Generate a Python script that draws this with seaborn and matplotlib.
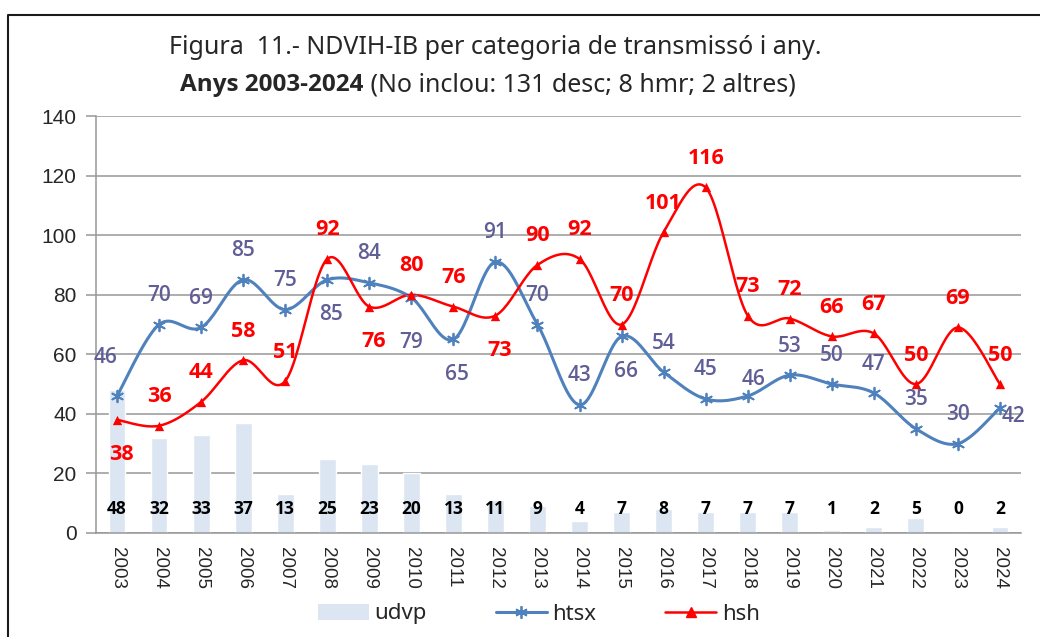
import numpy as np
import pandas as pd
import seaborn as sns
import matplotlib.pyplot as plt
from matplotlib.lines import Line2D
from matplotlib.patches import Patch

years = [str(y) for y in range(2003, 2025)]
udvp = [48, 32, 33, 37, 13, 25, 23, 20, 13, 11, 9, 4, 7, 8, 7, 7, 7, 1, 2, 5, 0, 2]
htsx = [46, 70, 69, 85, 75, 85, 84, 79, 65, 91, 70, 43, 66, 54, 45, 46, 53, 50, 47, 35, 30, 42]
hsh = [38, 36, 44, 58, 51, 92, 76, 80, 76, 73, 90, 92, 70, 101, 116, 73, 72, 66, 67, 50, 69, 50]

# where each data label sits relative to its point
htsx_pos = ['al', 'a', 'a', 'a', 'a', 'b', 'a', 'bb', 'b', 'a', 'a', 'a', 'b', 'a', 'a',
            'ar', 'a', 'a', 'a', 'a', 'a', 'r']
hsh_pos = ['b', 'a', 'a', 'a', 'a', 'a', 'b', 'a', 'a', 'b', 'a', 'a', 'a', 'a', 'a',
           'a', 'a', 'a', 'a', 'a', 'a', 'a']
offsets = {'a': (0, 29), 'b': (4, -35), 'bb': (0, -45), 'al': (-11, 38),
           'ar': (6, 16), 'r': (14, -9)}

BLUE = '#4F81BD'
RED = '#FF0000'
BAR = '#DCE6F2'
GRID = '#979797'
LBL = '#605E96'
BOLDFONT = ['Open Sans', 'DejaVu Sans']


def smooth(vals, n=24):
    # Bezier smoothing through the points, like Excel's "smoothed line"
    p = np.column_stack([np.arange(len(vals), dtype=float), np.asarray(vals, float)])
    p = np.vstack([p[0], p, p[-1]])
    t = np.linspace(0, 1, n, endpoint=False)[:, None]
    segs = []
    for i in range(1, len(p) - 2):
        p0, p1, p2, p3 = p[i - 1], p[i], p[i + 1], p[i + 2]
        c1 = p1 + (p2 - p0) / 6
        c2 = p2 - (p3 - p1) / 6
        segs.append((1 - t) ** 3 * p1 + 3 * (1 - t) ** 2 * t * c1
                    + 3 * (1 - t) * t ** 2 * c2 + t ** 3 * p2)
    segs.append(p[-2][None])
    s = np.vstack(segs)
    return s[:, 0], s[:, 1]


sns.set_style('white')
plt.rcParams['font.family'] = ['Noto Sans', 'DejaVu Sans']

df = pd.DataFrame({'year': years, 'udvp': udvp, 'htsx': htsx, 'hsh': hsh})

fig = plt.figure(figsize=(10.4, 6.37), dpi=100)
ax = fig.add_axes([96 / 1040, 1 - 533 / 637, 925 / 1040, 417 / 637])

sns.barplot(data=df, x='year', y='udvp', color=BAR, width=0.4, saturation=1, ax=ax, zorder=2)

xs, ys = smooth(htsx)
ax.plot(xs, ys, color=BLUE, lw=2.2, zorder=3)
sns.scatterplot(x=np.arange(len(htsx)), y=htsx, marker=(6, 2, 0), s=70, color=BLUE,
                linewidth=1.3, edgecolor=BLUE, ax=ax, zorder=4)
xs, ys = smooth(hsh)
ax.plot(xs, ys, color=RED, lw=1.8, zorder=3)
sns.scatterplot(x=np.arange(len(hsh)), y=hsh, marker='^', s=45, color=RED,
                linewidth=0, ax=ax, zorder=4)

for i, v in enumerate(udvp):
    ax.text(i, 8, str(v), ha='center', va='center', fontsize=12.5, fontweight='bold',
            family=BOLDFONT, color='black', zorder=5)
for i, v in enumerate(htsx):
    dx, dy = offsets[htsx_pos[i]]
    ax.annotate(str(v), (i, v), xytext=(dx, dy), textcoords='offset pixels', ha='center',
                va='center', fontsize=15, fontweight='semibold', family=BOLDFONT,
                color=LBL, zorder=5)
for i, v in enumerate(hsh):
    dx, dy = offsets[hsh_pos[i]]
    ax.annotate(str(v), (i, v), xytext=(dx, dy), textcoords='offset pixels', ha='center',
                va='center', fontsize=15.5, fontweight='bold', family=BOLDFONT,
                color=RED, zorder=5)

ax.set_xlim(-0.5, len(years) - 0.5)
ax.set_ylim(0, 140)
ax.set_yticks(range(0, 141, 20))
ax.set_xlabel('')
ax.set_ylabel('')
ax.yaxis.grid(True, color=GRID, lw=1.1)
ax.set_axisbelow(True)
for side in ['top', 'right']:
    ax.spines[side].set_visible(False)
for side in ['left', 'bottom']:
    ax.spines[side].set_color(GRID)
    ax.spines[side].set_linewidth(1.1)

ax.set_xticks(np.arange(-0.5, len(years), 1), minor=True)
ax.tick_params(axis='x', which='minor', length=4, color=GRID, width=1.1)
ax.tick_params(axis='x', which='major', length=0, pad=10)
ax.set_xticklabels(years, rotation=270, fontsize=13.5, family='Liberation Sans')
ax.tick_params(axis='y', length=7, color=GRID, width=1.1, pad=7, left=True)
for lab in ax.get_yticklabels():
    lab.set_family('Liberation Sans')
    lab.set_fontsize(15)

fig.text(495 / 1040, 1 - 48 / 637, 'Figura  11.- NDVIH-IB per categoria de transmissó i any.',
         ha='center', va='center', fontsize=18)
fig.canvas.draw()
t1 = fig.text(0, 1 - 85 / 637, 'Anys 2003-2024', ha='left', va='center', fontsize=17.5,
              fontweight='bold', family=BOLDFONT)
t2 = fig.text(0, 1 - 85 / 637, ' (No inclou: 131 desc; 8 hmr; 2 altres)', ha='left',
              va='center', fontsize=18)
r = fig.canvas.get_renderer()
w1 = t1.get_window_extent(r).width
w2 = t2.get_window_extent(r).width
x0 = 488 - (w1 + w2) / 2
t1.set_x(x0 / 1040)
t2.set_x((x0 + w1) / 1040)

handles = [Patch(facecolor=BAR, edgecolor='none'),
           Line2D([], [], color=BLUE, lw=2.2, marker=(6, 2, 0), markersize=9, mew=1.3),
           Line2D([], [], color=RED, lw=1.8, marker='^', markersize=7)]
fig.legend(handles, ['udvp', 'htsx', 'hsh'], loc='center', bbox_to_anchor=(0.518, 1 - 614 / 637),
           ncol=3, frameon=False, fontsize=16, handlelength=2.3, handletextpad=0.25,
           columnspacing=3.1)

fig.add_artist(Line2D([8 / 1040, 8 / 1040, 1], [0, 1 - 15 / 637, 1 - 15 / 637],
                      transform=fig.transFigure, color='#1a1a1a', lw=1.5))

fig.savefig('out.png', dpi=100)
plt.close(fig)
